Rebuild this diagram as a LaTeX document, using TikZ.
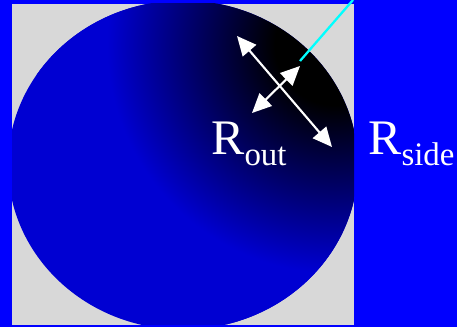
\documentclass[tikz,border=0pt]{standalone}
\usepackage{fontspec}
\setmainfont{Liberation Serif}
\usetikzlibrary{arrows.meta}

\definecolor{slideblue}{RGB}{0,0,255}
\definecolor{panelgray}{RGB}{216,216,216}
\definecolor{discblue}{RGB}{0,0,210}
\definecolor{probecyan}{RGB}{0,255,255}

\pgfdeclareradialshading{hotspot}{\pgfpoint{0bp}{0bp}}{%
  color(0bp)=(black); color(5bp)=(black); color(19bp)=(discblue); color(50bp)=(discblue)}

\tikzset{
  radius arrow/.style={white, line width=1.2pt, {Triangle[length=11pt,width=10pt]}-{Triangle[length=11pt,width=10pt]}},
  radius label/.style={white, anchor=base west, inner sep=0pt, font=\fontsize{28.3}{30}\selectfont}
}
\newcommand{\sublabel}[1]{\raisebox{-5.7pt}{\fontsize{18.7}{20}\selectfont #1}}

\begin{document}
\begin{tikzpicture}[x=0.02cm, y=-0.02cm]
  \useasboundingbox (0,0) rectangle (457,327);
  \fill[slideblue] (0,0) rectangle (457,327);
  \fill[panelgray] (12,4) rectangle (354,325);
  % source disc, clipped by the panel
  \begin{scope}
    \clip (12,4) rectangle (354,325);
    \clip (183,165) ellipse [x radius=175, y radius=164.5];
    \fill[discblue] (12,4) rectangle (354,325);
    \shade[shading=hotspot] (335,45) circle (300);
  \end{scope}
  % arrows
  \coordinate (side top) at (237,36);
  \coordinate (side bottom) at (332,147);
  \coordinate (out low) at (252,113);
  \coordinate (out high) at (300,66);
  \coordinate (probe start) at (300,61);
  \coordinate (probe end) at (353,0);
  \draw[radius arrow] (side top) -- (side bottom);
  \draw[radius arrow] (out low) -- (out high);
  \draw[probecyan, line width=1.3pt] (probe start) -- (probe end);
  % labels
  \node[radius label] (rout) at (211,155) {R\sublabel{out}};
  \node[radius label] (rside) at (368,155) {R\sublabel{side}};
\end{tikzpicture}
\end{document}
